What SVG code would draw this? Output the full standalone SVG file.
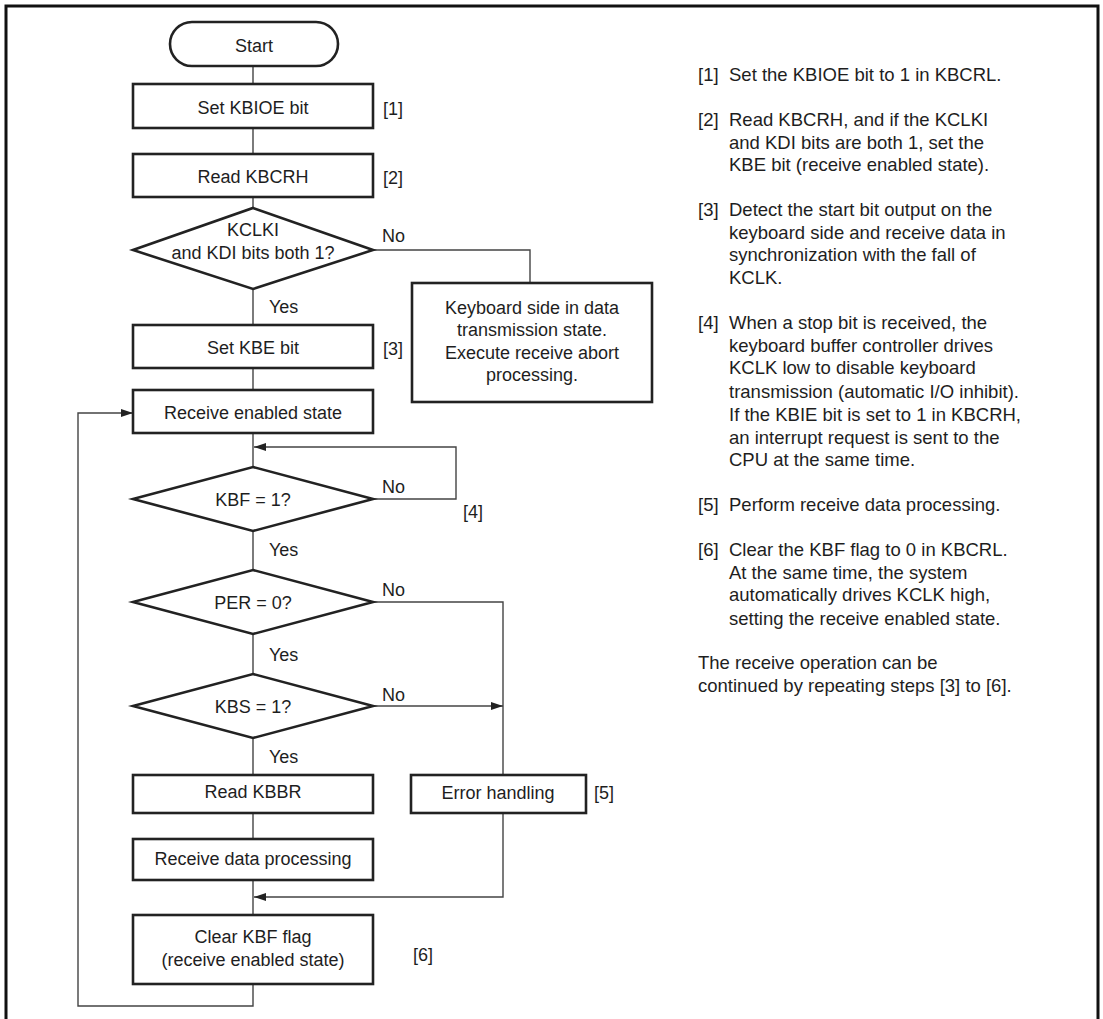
<svg xmlns="http://www.w3.org/2000/svg" width="1103" height="1019" viewBox="0 0 1103 1019">
<defs>
<style>
.t{font-family:"Liberation Sans",Arial,sans-serif;font-size:18px;fill:#1e1e1e}
.c{text-anchor:middle}
.n{font-size:18.5px}
.box{fill:#fff;stroke:#222;stroke-width:2.6}
.ln{fill:none;stroke:#444;stroke-width:1.4}
</style>
<marker id="ah" viewBox="0 0 12 8" refX="12" refY="4" markerWidth="12" markerHeight="8" markerUnits="userSpaceOnUse" orient="auto">
<path d="M0,0 L12,4 L0,8 Z" fill="#222"/>
</marker>
</defs>
<rect width="1103" height="1019" fill="#fff"/>
<path d="M6,1019 V6 H1098 V1019" fill="none" stroke="#111" stroke-width="3"/>

<g id="connectors">
<path class="ln" d="M253,66 V84"/>
<path class="ln" d="M253,128 V154"/>
<path class="ln" d="M253,197 V208"/>
<path class="ln" d="M253,289 V325"/>
<path class="ln" d="M373,250 H530 V283"/>
<path class="ln" d="M253,368 V390"/>
<path class="ln" d="M253,433 V467"/>
<path class="ln" d="M373,499 H456 V447 H254" marker-end="url(#ah)"/>
<path class="ln" d="M253,531 V570"/>
<path class="ln" d="M373,602 H503 V775"/>
<path class="ln" d="M253,634 V674"/>
<path class="ln" d="M373,706 H503" marker-end="url(#ah)"/>
<path class="ln" d="M253,738 V775"/>
<path class="ln" d="M253,813 V839"/>
<path class="ln" d="M503,813 V897 H254" marker-end="url(#ah)"/>
<path class="ln" d="M253,880 V915"/>
<path class="ln" d="M253,984 V1006 H78 V413 H133" marker-end="url(#ah)"/>
<text class="t" x="382" y="242">No</text>
<text class="t" x="269" y="313">Yes</text>
<text class="t" x="382" y="493">No</text>
<text class="t" x="269" y="556">Yes</text>
<text class="t" x="382" y="596">No</text>
<text class="t" x="269" y="661">Yes</text>
<text class="t" x="382" y="701">No</text>
<text class="t" x="269" y="763">Yes</text>
</g>

<g id="start">
<rect class="box" x="170" y="22" width="168" height="44" rx="22"/>
<text class="t c" x="254" y="52">Start</text>
</g>
<g id="set-kbioe">
<rect class="box" x="133" y="84" width="240" height="44"/>
<text class="t c" x="253" y="114">Set KBIOE bit</text>
<text class="t" x="383" y="115">[1]</text>
</g>
<g id="read-kbcrh">
<rect class="box" x="133" y="154" width="240" height="43"/>
<text class="t c" x="253" y="183">Read KBCRH</text>
<text class="t" x="383" y="184">[2]</text>
</g>
<g id="dec-kclki">
<path class="box" d="M253,208 L373,250 L253,289 L133,250 Z"/>
<text class="t c" x="253" y="236">KCLKI</text>
<text class="t c" x="253" y="259">and KDI bits both 1?</text>
</g>
<g id="abort">
<rect class="box" x="412" y="283" width="240" height="119"/>
<text class="t c" x="532" y="314">Keyboard side in data</text>
<text class="t c" x="532" y="336">transmission state.</text>
<text class="t c" x="532" y="359">Execute receive abort</text>
<text class="t c" x="532" y="381">processing.</text>
</g>
<g id="set-kbe">
<rect class="box" x="133" y="325" width="240" height="43"/>
<text class="t c" x="253" y="354">Set KBE bit</text>
<text class="t" x="383" y="355">[3]</text>
</g>
<g id="recv-enabled">
<rect class="box" x="133" y="390" width="240" height="43"/>
<text class="t c" x="253" y="419">Receive enabled state</text>
</g>
<g id="dec-kbf">
<path class="box" d="M253,467 L373,499 L253,531 L133,499 Z"/>
<text class="t c" x="253" y="506">KBF = 1?</text>
<text class="t" x="463" y="518">[4]</text>
</g>
<g id="dec-per">
<path class="box" d="M253,570 L373,602 L253,634 L133,602 Z"/>
<text class="t c" x="253" y="609">PER = 0?</text>
</g>
<g id="dec-kbs">
<path class="box" d="M253,674 L373,706 L253,738 L133,706 Z"/>
<text class="t c" x="253" y="713">KBS = 1?</text>
</g>
<g id="read-kbbr">
<rect class="box" x="133" y="775" width="240" height="38"/>
<text class="t c" x="253" y="798">Read KBBR</text>
</g>
<g id="error">
<rect class="box" x="411" y="775" width="175" height="38"/>
<text class="t c" x="498" y="799">Error handling</text>
<text class="t" x="594" y="799">[5]</text>
</g>
<g id="recv-data">
<rect class="box" x="133" y="839" width="240" height="41"/>
<text class="t c" x="253" y="865">Receive data processing</text>
</g>
<g id="clear-kbf">
<rect class="box" x="133" y="915" width="240" height="69"/>
<text class="t c" x="253" y="943">Clear KBF flag</text>
<text class="t c" x="253" y="966">(receive enabled state)</text>
<text class="t" x="413" y="961">[6]</text>
</g>

<g id="notes" class="t n">
<text x="698" y="81">[1]</text><text x="729" y="81">Set the KBIOE bit to 1 in KBCRL.</text>
<text x="698" y="126">[2]</text><text x="729" y="126">Read KBCRH, and if the KCLKI</text>
<text x="729" y="149">and KDI bits are both 1, set the</text>
<text x="729" y="171">KBE bit (receive enabled state).</text>
<text x="698" y="216">[3]</text><text x="729" y="216">Detect the start bit output on the</text>
<text x="729" y="239">keyboard side and receive data in</text>
<text x="729" y="261">synchronization with the fall of</text>
<text x="729" y="284">KCLK.</text>
<text x="698" y="329">[4]</text><text x="729" y="329">When a stop bit is received, the</text>
<text x="729" y="352">keyboard buffer controller drives</text>
<text x="729" y="374">KCLK low to disable keyboard</text>
<text x="729" y="398">transmission (automatic I/O inhibit).</text>
<text x="729" y="421">If the KBIE bit is set to 1 in KBCRH,</text>
<text x="729" y="444">an interrupt request is sent to the</text>
<text x="729" y="466">CPU at the same time.</text>
<text x="698" y="511">[5]</text><text x="729" y="511">Perform receive data processing.</text>
<text x="698" y="556">[6]</text><text x="729" y="556">Clear the KBF flag to 0 in KBCRL.</text>
<text x="729" y="579">At the same time, the system</text>
<text x="729" y="601">automatically drives KCLK high,</text>
<text x="729" y="625">setting the receive enabled state.</text>
<text x="698" y="669">The receive operation can be</text>
<text x="698" y="692">continued by repeating steps [3] to [6].</text>
</g>
</svg>
